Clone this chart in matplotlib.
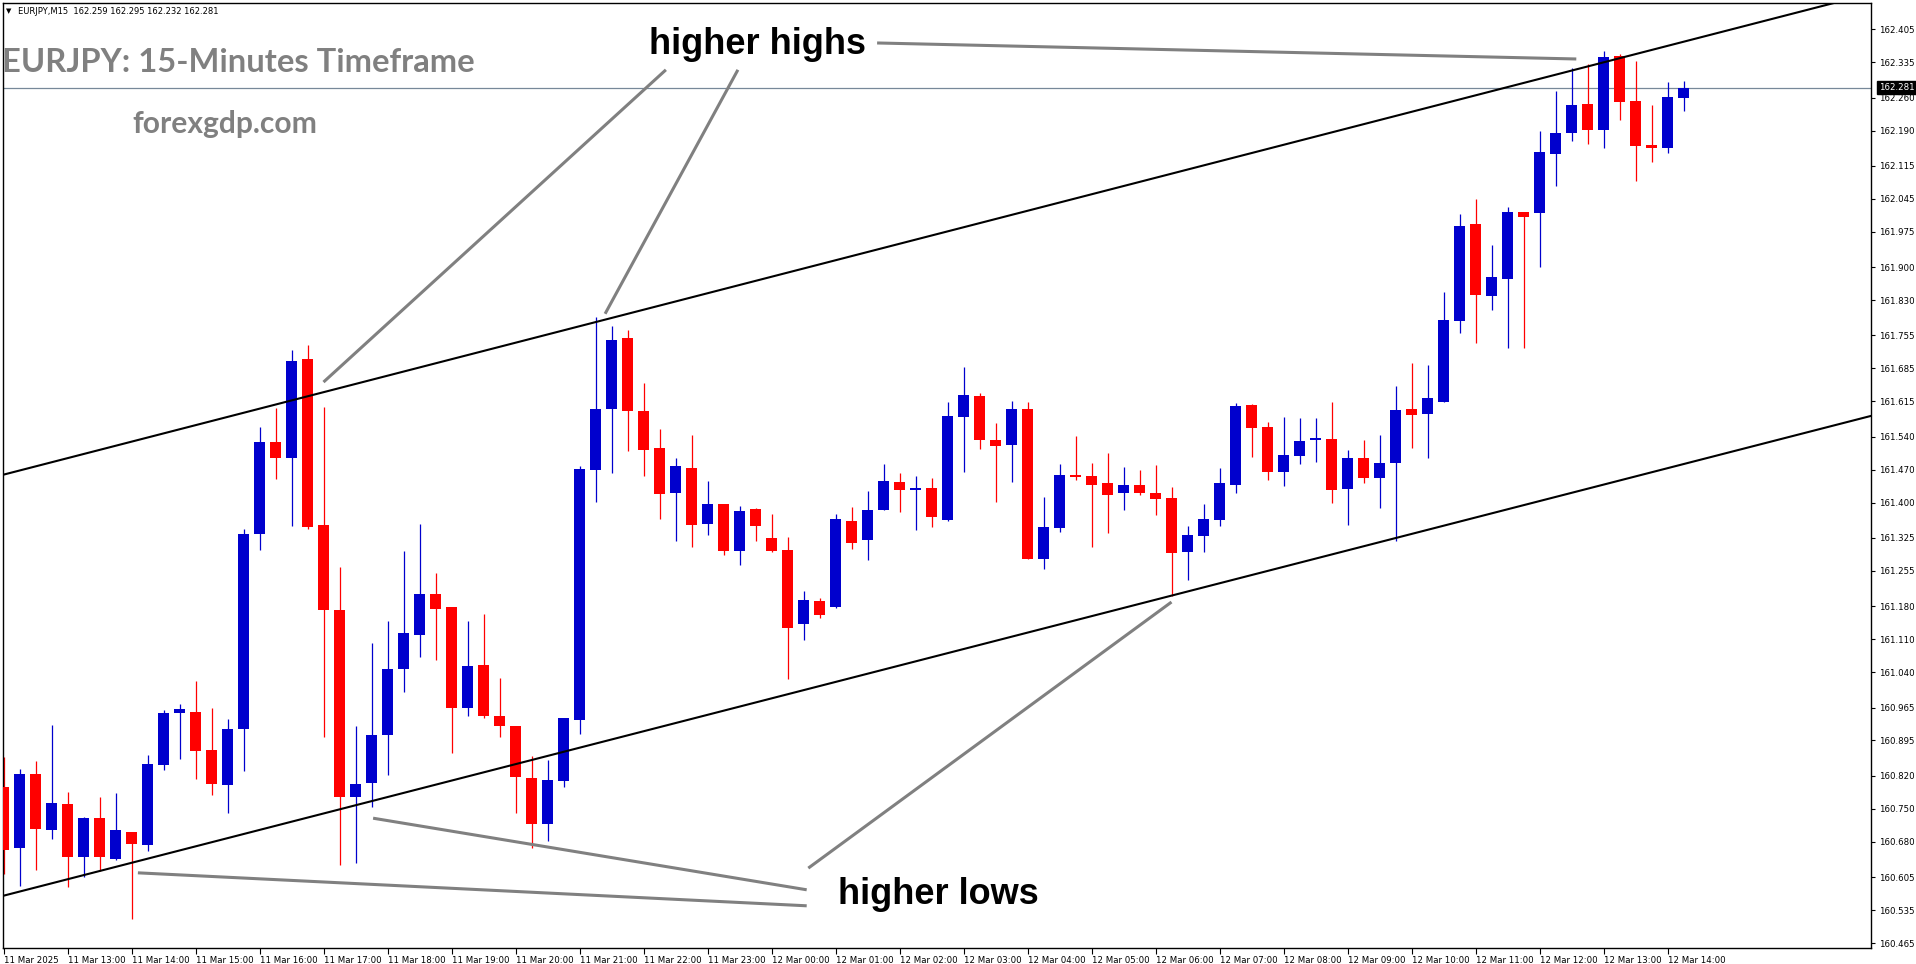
import matplotlib.pyplot as plt
from matplotlib.transforms import blended_transform_factory

# EURJPY M15 candles, 11 Mar 12:00 -> 12 Mar 14:15
opens = [160.797, 160.667, 160.824, 160.705, 160.760, 160.648, 160.731, 160.644, 160.701, 160.673,
         160.843, 160.954, 160.956, 160.875, 160.801, 160.920, 161.333, 161.528, 161.495, 161.704,
         161.353, 161.171, 160.776, 160.804, 160.907, 161.047, 161.119, 161.205, 161.179, 160.965,
         161.055, 160.948, 160.926, 160.816, 160.717, 160.810, 160.938, 161.469, 161.598, 161.750,
         161.594, 161.516, 161.420, 161.473, 161.354, 161.397, 161.297, 161.386, 161.325, 161.299,
         161.143, 161.191, 161.179, 161.361, 161.320, 161.384, 161.444, 161.427, 161.431, 161.363,
         161.582, 161.626, 161.533, 161.522, 161.599, 161.280, 161.346, 161.459, 161.456, 161.441,
         161.420, 161.437, 161.420, 161.410, 161.295, 161.329, 161.363, 161.437, 161.607, 161.560,
         161.465, 161.499, 161.533, 161.535, 161.429, 161.495, 161.453, 161.485, 161.599, 161.589,
         161.613, 161.785, 161.991, 161.838, 161.875, 162.017, 162.015, 162.140, 162.185, 162.247,
         162.191, 162.348, 162.253, 162.159, 162.153, 162.259]
highs = [160.859, 160.835, 160.852, 160.928, 160.786, 160.733, 160.775, 160.784, 160.701, 160.864,
         160.960, 160.973, 161.021, 160.964, 160.941, 161.345, 161.560, 161.600, 161.725, 161.735,
         161.603, 161.263, 160.926, 161.102, 161.149, 161.298, 161.355, 161.251, 161.179, 161.149,
         161.163, 161.028, 160.926, 160.862, 160.854, 160.943, 161.477, 161.795, 161.775, 161.766,
         161.655, 161.556, 161.495, 161.543, 161.446, 161.397, 161.393, 161.388, 161.376, 161.327,
         161.212, 161.197, 161.376, 161.391, 161.425, 161.482, 161.463, 161.456, 161.452, 161.613,
         161.688, 161.633, 161.569, 161.616, 161.613, 161.412, 161.482, 161.541, 161.484, 161.505,
         161.475, 161.469, 161.480, 161.433, 161.350, 161.397, 161.473, 161.611, 161.609, 161.571,
         161.582, 161.579, 161.579, 161.613, 161.511, 161.533, 161.543, 161.647, 161.696, 161.692,
         161.847, 162.013, 162.044, 161.947, 162.027, 162.017, 162.189, 162.274, 162.323, 162.331,
         162.359, 162.353, 162.338, 162.245, 162.294, 162.295]
lows = [160.612, 160.585, 160.620, 160.686, 160.583, 160.606, 160.617, 160.641, 160.515, 160.661,
        160.833, 160.856, 160.813, 160.779, 160.741, 160.830, 161.300, 161.450, 161.350, 161.345,
        160.902, 160.630, 160.634, 160.753, 160.821, 160.997, 161.073, 161.066, 160.869, 160.948,
        160.942, 160.903, 160.741, 160.667, 160.682, 160.797, 160.909, 161.402, 161.462, 161.509,
        161.456, 161.365, 161.318, 161.306, 161.331, 161.289, 161.267, 161.318, 161.295, 161.026,
        161.109, 161.156, 161.177, 161.301, 161.278, 161.384, 161.380, 161.342, 161.348, 161.361,
        161.465, 161.514, 161.401, 161.444, 161.280, 161.259, 161.337, 161.448, 161.306, 161.335,
        161.384, 161.416, 161.374, 161.202, 161.235, 161.295, 161.350, 161.420, 161.497, 161.448,
        161.436, 161.482, 161.487, 161.400, 161.353, 161.442, 161.389, 161.319, 161.516, 161.495,
        161.613, 161.760, 161.739, 161.809, 161.728, 161.728, 161.900, 162.072, 162.168, 162.162,
        162.153, 162.213, 162.083, 162.124, 162.143, 162.232]
closes = [160.663, 160.824, 160.707, 160.762, 160.648, 160.731, 160.648, 160.705, 160.676, 160.845,
          160.954, 160.962, 160.873, 160.803, 160.920, 161.333, 161.528, 161.495, 161.700, 161.349,
          161.171, 160.774, 160.803, 160.907, 161.047, 161.123, 161.205, 161.175, 160.965, 161.053,
          160.946, 160.925, 160.817, 160.718, 160.812, 160.943, 161.472, 161.599, 161.745, 161.594,
          161.512, 161.418, 161.478, 161.352, 161.397, 161.297, 161.382, 161.350, 161.297, 161.134,
          161.193, 161.162, 161.365, 161.314, 161.384, 161.446, 161.427, 161.431, 161.370, 161.584,
          161.628, 161.533, 161.520, 161.599, 161.280, 161.348, 161.458, 161.454, 161.437, 161.416,
          161.437, 161.420, 161.407, 161.293, 161.331, 161.365, 161.441, 161.605, 161.559, 161.465,
          161.501, 161.531, 161.537, 161.427, 161.495, 161.453, 161.484, 161.596, 161.587, 161.622,
          161.787, 161.987, 161.841, 161.879, 162.017, 162.006, 162.144, 162.185, 162.245, 162.191,
          162.346, 162.251, 162.157, 162.153, 162.261, 162.281]

time_labels = ['11 Mar 2025', '11 Mar 13:00', '11 Mar 14:00', '11 Mar 15:00', '11 Mar 16:00',
               '11 Mar 17:00', '11 Mar 18:00', '11 Mar 19:00', '11 Mar 20:00', '11 Mar 21:00',
               '11 Mar 22:00', '11 Mar 23:00', '12 Mar 00:00', '12 Mar 01:00', '12 Mar 02:00',
               '12 Mar 03:00', '12 Mar 04:00', '12 Mar 05:00', '12 Mar 06:00', '12 Mar 07:00',
               '12 Mar 08:00', '12 Mar 09:00', '12 Mar 10:00', '12 Mar 11:00', '12 Mar 12:00',
               '12 Mar 13:00', '12 Mar 14:00']
price_labels = ['162.405', '162.335', '162.260', '162.190', '162.115', '162.045', '161.975',
                '161.900', '161.830', '161.755', '161.685', '161.615', '161.540', '161.470',
                '161.400', '161.325', '161.255', '161.180', '161.110', '161.040', '160.965',
                '160.895', '160.820', '160.750', '160.680', '160.605', '160.535', '160.465']
last_price = 162.281

# trend channel (bar index, price)
upper_x = [-0.05, 116.7]
upper_y = [161.459, 162.481]
lower_x = [-0.05, 116.7]
lower_y = [160.565, 161.584]

# pointer lines for the labels (bar index, price)
hh_lines = [[(41.4, 162.319), (20.0, 161.656)],
            [(45.9, 162.319), (37.6, 161.801)],
            [(54.6, 162.376), (98.3, 162.342)]]
hl_lines = [[(50.2, 160.578), (23.1, 160.730)],
            [(50.2, 160.544), (8.4, 160.614)],
            [(50.3, 160.624), (73.0, 161.189)]]

W, H = 1916, 964
fig = plt.figure(figsize=(W / 100, H / 100), dpi=100)
ax = fig.add_axes([2.7 / W, (H - 948) / H, (1870.7 - 2.7) / W, (948 - 2.7) / H])
ax.set_xlim(-0.05, 116.7)
ax.set_ylim(160.4544, 162.4615)

bull = '#0000CD'
bear = '#FF0000'
n = len(opens)
for i in range(n):
    o, h, l, c = opens[i], highs[i], lows[i], closes[i]
    col = bull if c >= o else bear
    ax.vlines(i, l, h, color=col, lw=0.9, zorder=2)
    body = max(abs(c - o), 0.0022)
    ax.bar(i, body, bottom=min(o, c), width=0.69, color=col, lw=0, zorder=3)

# current price line
ax.axhline(last_price, color='#778899', lw=0.9, zorder=1)

# channel
ax.plot(upper_x, upper_y, color='black', lw=1.5, zorder=4)
ax.plot(lower_x, lower_y, color='black', lw=1.5, zorder=4)

for seg in hh_lines + hl_lines:
    ax.plot([seg[0][0], seg[1][0]], [seg[0][1], seg[1][1]], color='#808080', lw=2.2,
            solid_capstyle='butt', zorder=5)

ax.text(47.1, 162.372, 'higher highs', fontsize=26, fontweight='bold',
        family='Liberation Sans', ha='center', va='center', zorder=6)
ax.text(58.4, 160.568, 'higher lows', fontsize=26, fontweight='bold',
        family='Liberation Sans', ha='center', va='center', zorder=6)

# axes styling
for s in ax.spines.values():
    s.set_linewidth(1)
    s.set_color('black')
ax.set_xticks(range(0, 4 * len(time_labels), 4))
ax.set_xticklabels(time_labels, fontsize=6.2, ha='left')
ax.tick_params(axis='x', length=4, width=0.8, pad=2)
ax.yaxis.tick_right()
ax.set_yticks([float(p) for p in price_labels])
ax.set_yticklabels(price_labels, fontsize=6.2)
ax.tick_params(axis='y', length=3, width=0.8, pad=3)

# price marker box
tr = blended_transform_factory(ax.transAxes, ax.transData)
ax.text(1.0045, last_price, '162.281', transform=tr, fontsize=6.2, color='white',
        ha='left', va='center', clip_on=False, zorder=10,
        bbox=dict(boxstyle='square,pad=0.25', fc='black', ec='black'))

# header and watermark texts
fig.text(6 / W, 1 - 11 / H, '\u25bc', fontsize=5, va='center', ha='left')
fig.text(18 / W, 1 - 11 / H, 'EURJPY,M15  162.259 162.295 162.232 162.281', fontsize=6,
         va='center', ha='left')
fig.text(2 / W, 1 - 72 / H, 'EURJPY: 15-Minutes Timeframe', fontsize=23.6,
         fontweight='bold', family='Lato', color='#808080', va='baseline', ha='left')
fig.text(132 / W, 1 - 133 / H, 'forexgdp.com', fontsize=21.6, fontweight='bold',
         family='Lato', color='#808080', va='baseline', ha='left')

fig.savefig('out.png', dpi=100)
